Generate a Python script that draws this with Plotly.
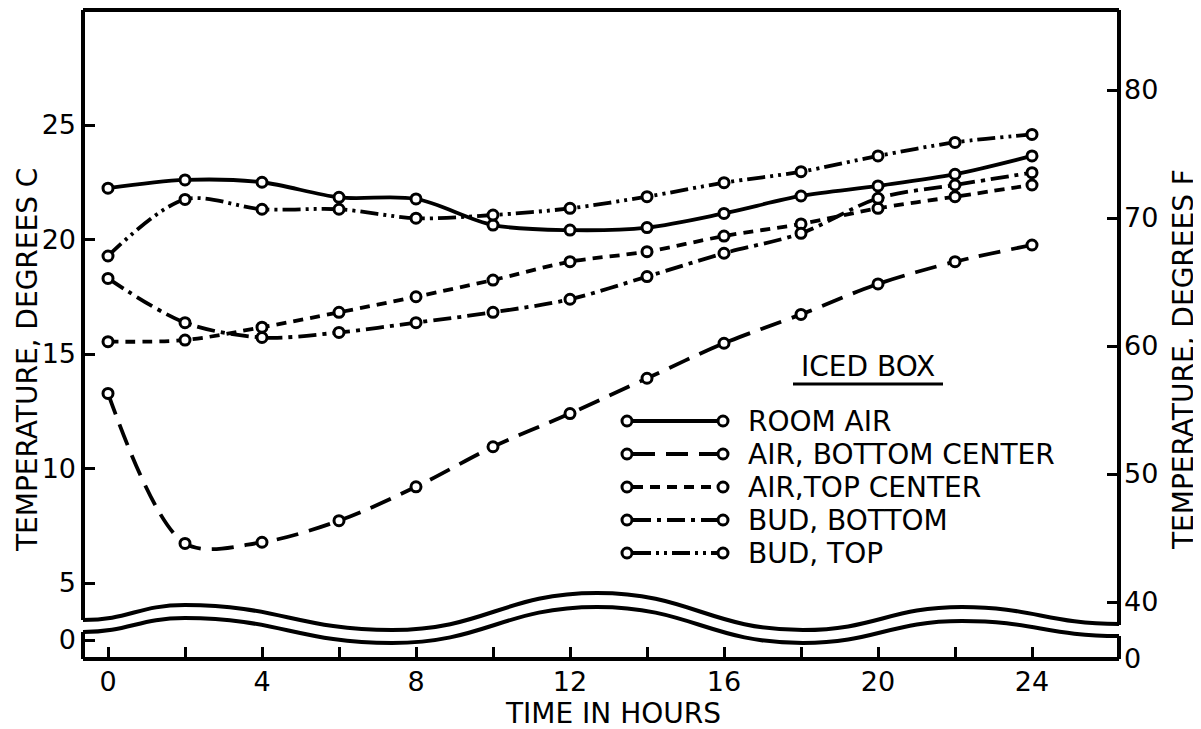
import plotly.graph_objects as go

# ---------------- data ----------------
hours = [0, 2, 4, 6, 8, 10, 12, 14, 16, 18, 20, 22, 24]
room_air = [22.24, 22.6, 22.5, 21.84, 21.77, 20.63, 20.41, 20.52, 21.14, 21.9, 22.34, 22.85, 23.65]
air_bottom_center = [13.28, 6.73, 6.78, 7.72, 9.2, 10.95, 12.4, 13.94, 15.47, 16.73, 18.06, 19.03, 19.76]
air_top_center = [15.54, 15.61, 16.17, 16.82, 17.5, 18.23, 19.03, 19.47, 20.15, 20.68, 21.36, 21.87, 22.38]
bud_bottom = [18.3, 16.37, 15.72, 15.94, 16.37, 16.82, 17.39, 18.38, 19.4, 20.27, 21.8, 22.38, 22.92]
bud_top = [19.28, 21.75, 21.32, 21.32, 20.93, 21.07, 21.36, 21.87, 22.48, 22.96, 23.65, 24.24, 24.59]

series_names = ["ROOM AIR", "AIR, BOTTOM CENTER", "AIR,TOP CENTER", "BUD, BOTTOM", "BUD, TOP"]
series_values = [room_air, air_bottom_center, air_top_center, bud_bottom, bud_top]
series_dash = ["solid", "22px,11px", "10px,7px", "18px,6px,4px,6px", "18px,5px,3px,5px,3px,5px"]

x_ticks = [0, 2, 4, 6, 8, 10, 12, 14, 16, 18, 20, 22, 24]
x_ticktext = ["0", "", "4", "", "8", "", "12", "", "16", "", "20", "", "24"]
c_ticktext = ["0", "5", "10", "15", "20", "25"]
f_ticktext = ["0", "40", "50", "60", "70", "80"]

# ---------------- layout geometry (screen pixels) ----------------
OFF = 8                     # page body margin
WIN_W, WIN_H = 1201, 729
FIG_W, FIG_H = WIN_W - OFF, WIN_H - OFF
L, R, T, B = 83, 1119, 10, 659   # plot frame on screen


def px(x):
    return (x - L) / (R - L)


def py(y):
    return (B - y) / (B - T)


FONT = "DejaVu Sans"

fig = go.Figure()

for name, vals, dash in zip(series_names, series_values, series_dash):
    fig.add_trace(go.Scatter(
        x=hours, y=vals, name=name, mode="lines+markers",
        line=dict(color="black", width=3.8, dash=dash, shape="spline", smoothing=0.9),
        marker=dict(symbol="circle", size=10, color="white", line=dict(color="black", width=3)),
        showlegend=False, hoverinfo="skip",
    ))

# invisible trace carrying the Fahrenheit axis
fig.add_trace(go.Scatter(
    x=hours, y=[c * 9 / 5 + 32 for c in room_air], yaxis="y2", mode="markers",
    marker=dict(opacity=0), showlegend=False, hoverinfo="skip",
))

shapes = []
# frame with break gaps on the vertical axes
frame_segments = [
    ((L, T), (R, T)), ((L, B), (R, B)),
    ((L, T), (L, 620)), ((L, 632), (L, B)),
    ((R, T), (R, 625)), ((R, 636), (R, B)),
]
for (x0, y0), (x1, y1) in frame_segments:
    shapes.append(dict(type="line", xref="paper", yref="paper",
                       x0=px(x0), y0=py(y0), x1=px(x1), y1=py(y1),
                       line=dict(color="black", width=4), layer="above"))


def wave(points):
    p = "M %.5f,%.5f" % (px(points[0][0]), py(points[0][1]))
    for (xa, ya), (xb, yb) in zip(points[:-1], points[1:]):
        dx = (xb - xa) / 2.2
        p += " C %.5f,%.5f %.5f,%.5f %.5f,%.5f" % (
            px(xa + dx), py(ya), px(xb - dx), py(yb), px(xb), py(yb))
    return p


upper = [(L, 620), (185, 605), (392, 630), (597, 593), (803, 630), (962, 607), (R, 624)]
lower = [(L, 632), (185, 618), (392, 643), (597, 607), (803, 643), (962, 621), (R, 636)]
for w in (upper, lower):
    shapes.append(dict(type="path", xref="paper", yref="paper", path=wave(w),
                       line=dict(color="black", width=4), layer="above"))

# legend drawn by hand
leg_rows = [421, 454, 487, 520, 553]
annotations = []
for name, dash, yy in zip(series_names, series_dash, leg_rows):
    shapes.append(dict(type="line", xref="paper", yref="paper",
                       x0=px(633), x1=px(717), y0=py(yy), y1=py(yy),
                       line=dict(color="black", width=3.8, dash=dash)))
    for cx in (627, 723):
        shapes.append(dict(type="circle", xref="paper", yref="paper",
                           x0=px(cx - 5), x1=px(cx + 5), y0=py(yy + 5), y1=py(yy - 5),
                           fillcolor="white", line=dict(color="black", width=3)))
    annotations.append(dict(text=name, xref="paper", yref="paper", x=px(746), y=py(yy),
                            xanchor="left", yanchor="middle", showarrow=False,
                            font=dict(family=FONT, size=28, color="black")))

annotations.append(dict(text="ICED BOX", xref="paper", yref="paper", x=px(868), y=py(366),
                        xanchor="center", yanchor="middle", showarrow=False,
                        font=dict(family=FONT, size=28, color="black")))
shapes.append(dict(type="line", xref="paper", yref="paper",
                   x0=px(793), x1=px(943), y0=py(384), y1=py(384),
                   line=dict(color="black", width=3)))

# axis titles
annotations.append(dict(text="TEMPERATURE, DEGREES C", xref="paper", yref="paper",
                        x=px(OFF + 0.5), y=py(360), textangle=-90, showarrow=False,
                        xanchor="left", yanchor="middle",
                        font=dict(family=FONT, size=28, color="black")))
annotations.append(dict(text="TEMPERATURE, DEGREES F", xref="paper", yref="paper",
                        x=px(1183), y=py(360), textangle=-90, showarrow=False,
                        xanchor="center", yanchor="middle",
                        font=dict(family=FONT, size=28, color="black")))
annotations.append(dict(text="TIME IN HOURS", xref="paper", yref="paper",
                        x=px(613), y=py(713), showarrow=False,
                        xanchor="center", yanchor="middle",
                        font=dict(family=FONT, size=28, color="black")))


def c_of(ypix):
    return 25 - (ypix - 125) / 22.9


def f_of(ypix):
    return 80 - (ypix - 90) / 12.8


c_tickvals = [c_of(640), 5, 10, 15, 20, 25]
f_tickvals = [f_of(658.5), 40, 50, 60, 70, 80]

tickfont = dict(family=FONT, size=27, color="black")

fig.update_layout(
    width=FIG_W, height=FIG_H,
    margin=dict(l=L - OFF, r=FIG_W - (R - OFF), t=T - OFF, b=FIG_H - (B - OFF), pad=0),
    paper_bgcolor="white", plot_bgcolor="white",
    showlegend=False,
    xaxis=dict(range=[(L - 108) / 38.5, (R - 108) / 38.5],
               tickmode="array", tickvals=x_ticks, ticktext=x_ticktext,
               ticks="inside", ticklen=12, tickwidth=3, tickcolor="black",
               showline=False, showgrid=False, zeroline=False,
               tickfont=tickfont, ticklabelstandoff=4),
    yaxis=dict(range=[c_of(B), c_of(T)],
               tickmode="array", tickvals=c_tickvals, ticktext=c_ticktext,
               ticks="inside", ticklen=12, tickwidth=3, tickcolor="black",
               showline=False, showgrid=False, zeroline=False,
               tickfont=tickfont, ticklabelstandoff=6),
    yaxis2=dict(range=[f_of(B), f_of(T)], overlaying="y", side="right",
                tickmode="array", tickvals=f_tickvals, ticktext=f_ticktext,
                ticks="inside", ticklen=12, tickwidth=3, tickcolor="black",
                showline=False, showgrid=False, zeroline=False,
                tickfont=tickfont, ticklabelstandoff=4),
    shapes=shapes,
    annotations=annotations,
)

fig.write_html("out.html")
